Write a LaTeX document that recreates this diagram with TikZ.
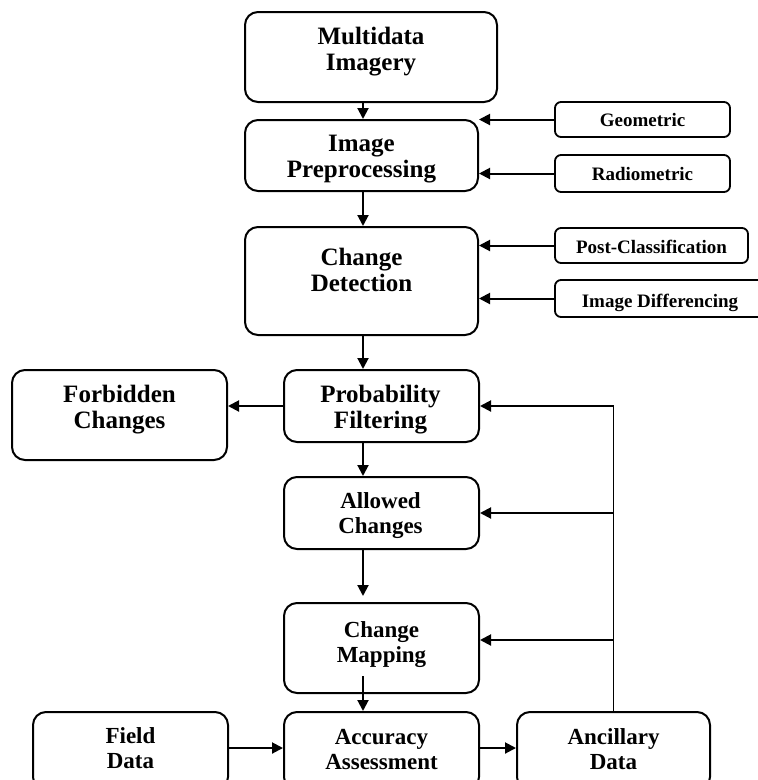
\documentclass[tikz,border=0pt]{standalone}
\usepackage{fontspec}
\setmainfont{Liberation Serif}
\usetikzlibrary{arrows.meta,calc}
\begin{document}
\begin{tikzpicture}[x=1pt,y=-1pt,
  box/.style={draw,line width=2pt,rounded corners=13pt,inner sep=0pt},
  sbox/.style={draw,line width=1.8pt,rounded corners=6pt,inner sep=0pt},
  bigtxt/.style={align=center,font=\fontsize{25}{26}\selectfont\bfseries,inner sep=0pt},
  midtxt/.style={align=center,font=\fontsize{23}{25}\selectfont\bfseries,inner sep=0pt},
  smalltxt/.style={font=\fontsize{19}{21}\selectfont\bfseries,inner sep=0pt,anchor=base},
  arr/.style={line width=2pt,-{Triangle[length=11pt,width=11pt]}},
  fline/.style={line width=1.8pt},
  ]
\useasboundingbox (0,0) rectangle (758,780);
\clip (0,0) rectangle (758,780);
\fill[white] (0,0) rectangle (758,780);

% boxes
\node[box, minimum width=252pt, minimum height=90pt] (mi) at (371,57) {};
\node[box, minimum width=233pt, minimum height=71pt] (ip) at (361.5,155.5) {};
\node[sbox, minimum width=175pt, minimum height=35pt] (geo) at (642.5,119.5) {};
\node[sbox, minimum width=175pt, minimum height=37pt] (rad) at (642.5,173.5) {};
\node[box, minimum width=233pt, minimum height=108pt] (cd) at (361.5,281) {};
\node[sbox, minimum width=193pt, minimum height=35pt] (pc) at (651.5,245.5) {};
\node[sbox, minimum width=220pt, minimum height=37pt] (id) at (665,298.5) {};
\node[box, minimum width=195pt, minimum height=72pt] (pf) at (381.5,406) {};
\node[box, minimum width=215pt, minimum height=90pt] (fc) at (119.5,415) {};
\node[box, minimum width=195pt, minimum height=72pt] (ac) at (381.5,513) {};
\node[box, minimum width=195pt, minimum height=90pt] (cm) at (381.5,648) {};
\node[box, minimum width=195pt, minimum height=78pt] (aa) at (381.5,751) {};
\node[box, minimum width=195pt, minimum height=78pt] (fd) at (130.5,751) {};
\node[box, minimum width=193pt, minimum height=78pt] (an) at (613.5,751) {};

% texts
\node[bigtxt] (mi-t) at (371,51.5) {Multidata\\Imagery};
\node[bigtxt] (ip-t) at (361.5,159) {Image\\Preprocessing};
\node[smalltxt] (geo-t) at (642.5,126.5) {Geometric};
\node[smalltxt] (rad-t) at (642.5,180) {Radiometric};
\node[bigtxt] (cd-t) at (361.5,270) {Change\\Detection};
\node[smalltxt] (pc-t) at (651.5,253) {Post-Classification};
\node[smalltxt] (id-t) at (660,307) {Image Differencing};
\node[bigtxt] (pf-t) at (380.5,409.5) {Probability\\Filtering};
\node[bigtxt] (fc-t) at (119.5,410) {Forbidden\\Changes};
\node[midtxt] (ac-t) at (380.5,515.5) {Allowed\\Changes};
\node[midtxt] (cm-t) at (381.5,645) {Change\\Mapping};
\node[midtxt] (aa-t) at (381.5,749.5) {Accuracy\\Assessment};
\node[midtxt] (fd-t) at (130.5,748.5) {Field\\Data};
\node[midtxt] (an-t) at (613.5,749.5) {Ancillary\\Data};

% main column connectors
\coordinate (colx) at (363,0);
\draw[arr] (mi.south -| colx) -- (ip.north -| colx);
\draw[arr] (ip.south -| colx) -- (cd.north -| colx);
\draw[arr] (cd.south -| colx) -- (pf.north -| colx);
\draw[arr] (pf.south -| colx) -- (ac.north -| colx);
\draw[arr] (ac.south -| colx) -- ($(cm.north -| colx)+(0,-6)$);
\draw[arr] ($(cm.south -| colx)+(0,-18)$) -- (aa.north -| colx);

% side inputs
\draw[arr] (geo.west) -- (geo.west -| ip.east);
\draw[arr] (rad.west) -- (rad.west -| ip.east);
\draw[arr] (pc.west) -- (pc.west -| cd.east);
\draw[arr] (id.west) -- (id.west -| cd.east);
\draw[arr] (pf.west) -- (pf.west -| fc.east);

% feedback from ancillary data
\draw[fline] (an.north) -- (an.north |- pf.east);
\draw[arr] (an.north |- pf.east) -- (pf.east);
\draw[arr] (an.north |- ac.east) -- (ac.east);
\draw[arr] ($(an.north |- cm.east)+(0,-8)$) -- ($(cm.east)+(0,-8)$);

% bottom row
\draw[arr] ($(fd.east)+(0,-3)$) -- ($(aa.west)+(0,-3)$);
\draw[arr] ($(aa.east)+(0,-3)$) -- ($(an.west)+(0,-3)$);
\end{tikzpicture}
\end{document}
